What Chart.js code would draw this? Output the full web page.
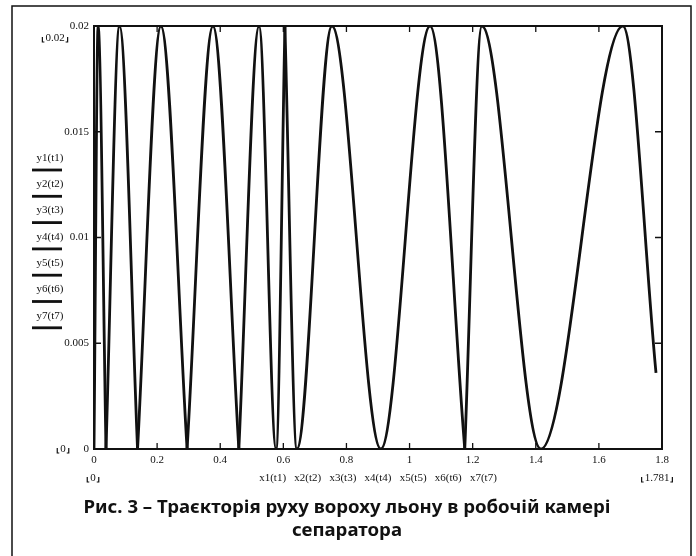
<!DOCTYPE html>
<html>
<head>
<meta charset="utf-8">
<script src="https://cdn.jsdelivr.net/npm/chart.js@4.4.1/dist/chart.umd.min.js"></script>
<style>
  html, body { margin: 0; padding: 0; background: #fff; }
  #wrap { position: relative; width: 696px; height: 556px; overflow: hidden; }
  #caption {
    position: absolute; left: 0; top: 494px; width: 694px;
    text-align: center; color: #111;
    font: bold 18.6px "Noto Sans", sans-serif; line-height: 23px;
  }
</style>
</head>
<body>
<div id="wrap">
  <canvas id="chart" width="696" height="556"></canvas>
  <div id="caption">Рис. 3 – Траєкторія руху вороху льону в робочій камері<br>сепаратора</div>
</div>
<script>
// Trajectory pieces (x in m, y in m)
const x1 = [0, 0.013, 0.038];
const y1 = [0, 0.02, 0];
const x2 = [0.038, 0.081, 0.138];
const y2 = [0, 0.02, 0];
const x3 = [0.138, 0.212, 0.295];
const y3 = [0, 0.02, 0];
const x4 = [0.295, 0.377, 0.459];
const y4 = [0, 0.02, 0];
const x5 = [0.459, 0.523, 0.577, 0.605];
const y5 = [0, 0.02, 0, 0.02];
const x6 = [0.605, 0.643, 0.754, 0.909, 1.065, 1.175];
const y6 = [0.02, 0, 0.02, 0, 0.02, 0];
const x7 = [1.175, 1.229, 1.416, 1.676, 1.781];
const y7 = [0, 0.02, 0, 0.02, 0.0036];

const seriesLabels = ['y1(t1)', 'y2(t2)', 'y3(t3)', 'y4(t4)', 'y5(t5)', 'y6(t6)', 'y7(t7)'];
const xAxisTitle = 'x1(t1)   x2(t2)   x3(t3)   x4(t4)   x5(t5)   x6(t6)   x7(t7)';

const xTickLabels = ['0', '0.2', '0.4', '0.6', '0.8', '1', '1.2', '1.4', '1.6', '1.8'];
const yTickLabels = ['0', '0.005', '0.01', '0.015', '0.02'];

// Mathcad range markers
const yTopLimit = '0.02';
const yBottomLimit = '0';
const xLeftLimit = '0';
const xRightLimit = '1.781';

const INK = '#111';
const serif = '"Liberation Serif", "DejaVu Serif", serif';

const allX = [x1, x2, x3, x4, x5, x6, x7];
const allY = [y1, y2, y3, y4, y5, y6, y7];

const datasets = seriesLabels.map(function (label, k) {
    return {
        label: label,
        data: allX[k].map((x, i) => ({ x: x, y: allY[k][i] })),
        showLine: true,
        borderColor: INK,
        borderWidth: 2.8,
        pointRadius: 0,
        fill: false,
        cubicInterpolationMode: 'monotone'
    };
});

// little corner marks around the limit values, like Mathcad prints them
function limitText(ctx, text, cx, cy) {
    ctx.textAlign = 'center';
    ctx.textBaseline = 'middle';
    ctx.fillText(text, cx, cy);
    const w = ctx.measureText(text).width / 2 + 3;
    ctx.lineWidth = 1.2;
    ctx.beginPath();
    ctx.moveTo(cx - w, cy - 1); ctx.lineTo(cx - w, cy + 4); ctx.lineTo(cx - w + 2, cy + 4);
    ctx.moveTo(cx + w, cy - 1); ctx.lineTo(cx + w, cy + 4); ctx.lineTo(cx + w - 2, cy + 4);
    ctx.stroke();
}

const framePlugin = {
    id: 'mathcadFrame',
    afterDraw(chart) {
        const ctx = chart.ctx;
        const a = chart.chartArea;
        const xs = chart.scales.x;
        const ys = chart.scales.y;
        ctx.save();
        ctx.strokeStyle = INK;
        ctx.fillStyle = INK;

        // outer frame of the figure
        ctx.lineWidth = 1.5;
        ctx.beginPath();
        ctx.moveTo(12, 560); ctx.lineTo(12, 6); ctx.lineTo(691, 6); ctx.lineTo(691, 560);
        ctx.stroke();

        // plot box
        ctx.lineWidth = 2;
        ctx.strokeRect(a.left, a.top, a.right - a.left, a.bottom - a.top);

        // inward ticks on all four sides
        ctx.lineWidth = 1.3;
        ctx.beginPath();
        xs.ticks.forEach(function (t) {
            const px = xs.getPixelForValue(t.value);
            ctx.moveTo(px, a.bottom); ctx.lineTo(px, a.bottom - 6);
            ctx.moveTo(px, a.top); ctx.lineTo(px, a.top + 6);
        });
        ys.ticks.forEach(function (t) {
            const py = ys.getPixelForValue(t.value);
            ctx.moveTo(a.left, py); ctx.lineTo(a.left + 7, py);
            ctx.moveTo(a.right, py); ctx.lineTo(a.right - 7, py);
        });
        ctx.stroke();

        // legend stacked on the left: label with its line below
        ctx.font = '11px ' + serif;
        ctx.textAlign = 'center';
        ctx.textBaseline = 'middle';
        chart.data.datasets.forEach(function (ds, i) {
            const ly = 158 + i * 26.3;
            ctx.fillText(ds.label, 50, ly);
            ctx.lineWidth = ds.borderWidth;
            ctx.beginPath();
            ctx.moveTo(32, ly + 12); ctx.lineTo(62, ly + 12);
            ctx.stroke();
        });

        // limit markers
        ctx.font = '11px ' + serif;
        limitText(ctx, yTopLimit, 55, 38);
        limitText(ctx, yBottomLimit, 63, 449);
        limitText(ctx, xLeftLimit, 93, 478);
        limitText(ctx, xRightLimit, 657, 478);

        ctx.restore();
    }
};

new Chart(document.getElementById('chart'), {
    type: 'scatter',
    data: { datasets: datasets },
    options: {
        responsive: false,
        animation: false,
        layout: { padding: { left: 0, top: 26, right: 34, bottom: 0 } },
        plugins: {
            legend: { display: false },
            tooltip: { enabled: false }
        },
        scales: {
            x: {
                type: 'linear',
                min: 0,
                max: 1.8,
                grid: { display: false, drawTicks: false },
                border: { display: false },
                ticks: {
                    stepSize: 0.2,
                    autoSkip: false,
                    maxRotation: 0,
                    padding: 5,
                    color: INK,
                    font: { family: serif, size: 11 },
                    callback: (v, i) => xTickLabels[i]
                },
                title: {
                    display: true,
                    text: xAxisTitle,
                    color: INK,
                    font: { family: serif, size: 11 },
                    padding: { top: 0, bottom: 71 }
                },
                afterFit: function (s) { s.height = 107; }
            },
            y: {
                type: 'linear',
                min: 0,
                max: 0.02,
                grid: { display: false, drawTicks: false },
                border: { display: false },
                ticks: {
                    stepSize: 0.005,
                    padding: 5,
                    color: INK,
                    font: { family: serif, size: 11 },
                    callback: (v, i) => yTickLabels[i]
                },
                afterFit: function (s) { s.width = 94; }
            }
        }
    },
    plugins: [framePlugin]
});
</script>
</body>
</html>
